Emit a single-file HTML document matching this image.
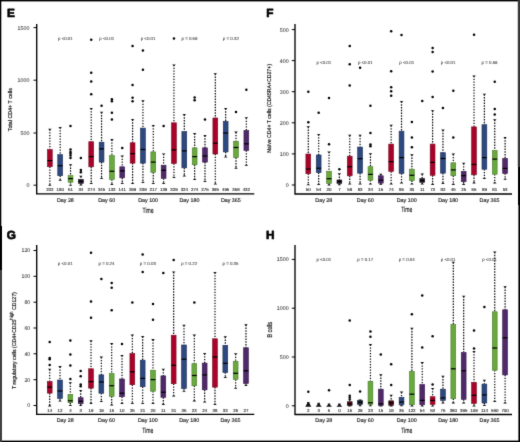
<!DOCTYPE html>
<html><head><meta charset="utf-8"><style>
html,body{margin:0;padding:0;background:#fff;}
body{width:520px;height:442px;overflow:hidden;}
svg{display:block;will-change:transform;}
text{font-family:'Liberation Sans',sans-serif;fill:#1a1a1a;text-rendering:geometricPrecision;}
.let{font-size:11.8px;font-weight:bold;fill:#000;stroke:#000;stroke-width:0.7px;stroke-linejoin:round;}
.wh{stroke:#000;stroke-width:1.2;stroke-dasharray:1.35 1.4;}
.cap{fill:#111;}
.bx{stroke-width:0.6;}
.md{stroke:#000;stroke-width:1.25;}
.ax{fill:none;stroke:#000;stroke-width:1.35;}
.tk{stroke:#000;stroke-width:1;}
.tl{font-size:5.3px;text-anchor:end;fill:#3a3a3a;stroke:#3a3a3a;stroke-width:0.06px;}
.pv{font-size:4.4px;text-anchor:middle;fill:#444;stroke:#444;stroke-width:0.08px;}
.n{font-size:4.4px;text-anchor:middle;fill:#2a2a2a;stroke:#2a2a2a;stroke-width:0.12px;}
.day{font-size:5.35px;text-anchor:middle;fill:#1a1a1a;stroke:#1a1a1a;stroke-width:0.15px;}
.time{font-size:7.6px;text-anchor:middle;fill:#111;stroke:#111;stroke-width:0.12px;}
.yt{font-size:5.6px;text-anchor:middle;fill:#111;stroke:#111;stroke-width:0.18px;}
.sup{font-size:4.6px;}
</style></head><body>
<svg width="520" height="442" viewBox="0 0 520 442">
<defs><filter id="bl" x="0" y="0" width="520" height="442" filterUnits="userSpaceOnUse" color-interpolation-filters="sRGB"><feConvolveMatrix order="3" kernelMatrix="0.0114 0.084 0.0114 0.084 0.619 0.084 0.0114 0.084 0.0114" edgeMode="duplicate" preserveAlpha="true"/></filter></defs>
<g filter="url(#bl)">
<rect x="0" y="0" width="520" height="442" fill="#fff"/>
<text x="7" y="16.9" class="let">E</text>
<line x1="49.85" y1="129.4" x2="49.85" y2="149.6" class="wh"/>
<line x1="49.85" y1="166.7" x2="49.85" y2="185.1" class="wh"/>
<path d="M48.05 128.8h3.6l-1.8 1.8z" class="cap"/>
<path d="M48.05 185.7h3.6l-1.8 -1.8z" class="cap"/>
<rect x="47.45" y="149.6" width="4.8" height="17.1" fill="#aa0229" stroke="#740a20" class="bx"/>
<line x1="47.45" y1="160.6" x2="52.25" y2="160.6" class="md"/>
<text x="49.85" y="190.8" class="n">232</text>
<line x1="60.19" y1="127.5" x2="60.19" y2="154.6" class="wh"/>
<line x1="60.19" y1="175.7" x2="60.19" y2="180.2" class="wh"/>
<path d="M58.39 126.9h3.6l-1.8 1.8z" class="cap"/>
<path d="M58.39 180.8h3.6l-1.8 -1.8z" class="cap"/>
<rect x="57.79" y="154.6" width="4.8" height="21.1" fill="#2d4980" stroke="#1b2b50" class="bx"/>
<line x1="57.79" y1="165.7" x2="62.59" y2="165.7" class="md"/>
<text x="60.19" y="190.8" class="n">180</text>
<line x1="70.53" y1="164.8" x2="70.53" y2="175.6" class="wh"/>
<line x1="70.53" y1="182.2" x2="70.53" y2="185.1" class="wh"/>
<path d="M68.73 164.2h3.6l-1.8 1.8z" class="cap"/>
<path d="M68.73 185.7h3.6l-1.8 -1.8z" class="cap"/>
<rect x="68.13" y="175.6" width="4.8" height="6.6" fill="#69a93d" stroke="#4a7a2c" class="bx"/>
<line x1="68.13" y1="178.6" x2="72.93" y2="178.6" class="md"/>
<circle cx="70.53" cy="125.9" r="1.25"/>
<circle cx="70.53" cy="149.5" r="1.25"/>
<circle cx="70.53" cy="151.9" r="1.25"/>
<circle cx="70.53" cy="153.4" r="1.25"/>
<circle cx="70.53" cy="155.4" r="1.25"/>
<circle cx="70.53" cy="158" r="1.25"/>
<text x="70.53" y="190.8" class="n">61</text>
<line x1="80.88" y1="176.3" x2="80.88" y2="179.4" class="wh"/>
<line x1="80.88" y1="183.4" x2="80.88" y2="185" class="wh"/>
<path d="M79.08 175.7h3.6l-1.8 1.8z" class="cap"/>
<path d="M79.08 185.6h3.6l-1.8 -1.8z" class="cap"/>
<rect x="78.48" y="179.4" width="4.8" height="4" fill="#2b1639" stroke="#1a1a1a" class="bx"/>
<line x1="78.48" y1="181.4" x2="83.28" y2="181.4" class="md"/>
<circle cx="80.88" cy="158" r="1.25"/>
<circle cx="80.88" cy="169.9" r="1.25"/>
<circle cx="80.88" cy="172.2" r="1.25"/>
<text x="80.88" y="190.8" class="n">34</text>
<line x1="91.22" y1="108.5" x2="91.22" y2="141.7" class="wh"/>
<line x1="91.22" y1="166.8" x2="91.22" y2="183.5" class="wh"/>
<path d="M89.42 107.9h3.6l-1.8 1.8z" class="cap"/>
<path d="M89.42 184.1h3.6l-1.8 -1.8z" class="cap"/>
<rect x="88.82" y="141.7" width="4.8" height="25.1" fill="#aa0229" stroke="#740a20" class="bx"/>
<line x1="88.82" y1="156.6" x2="93.62" y2="156.6" class="md"/>
<circle cx="91.22" cy="39.8" r="1.25"/>
<circle cx="91.22" cy="72.8" r="1.25"/>
<circle cx="91.22" cy="81.5" r="1.25"/>
<circle cx="91.22" cy="94.2" r="1.25"/>
<text x="91.22" y="190.8" class="n">274</text>
<line x1="101.56" y1="112.3" x2="101.56" y2="142.2" class="wh"/>
<line x1="101.56" y1="162.1" x2="101.56" y2="178.4" class="wh"/>
<path d="M99.76 111.7h3.6l-1.8 1.8z" class="cap"/>
<path d="M99.76 179h3.6l-1.8 -1.8z" class="cap"/>
<rect x="99.16" y="142.2" width="4.8" height="19.9" fill="#2d4980" stroke="#1b2b50" class="bx"/>
<line x1="99.16" y1="148.9" x2="103.96" y2="148.9" class="md"/>
<circle cx="101.56" cy="105.7" r="1.25"/>
<text x="101.56" y="190.8" class="n">345</text>
<line x1="111.9" y1="139.7" x2="111.9" y2="155.6" class="wh"/>
<line x1="111.9" y1="179.4" x2="111.9" y2="184.5" class="wh"/>
<path d="M110.1 139.1h3.6l-1.8 1.8z" class="cap"/>
<path d="M110.1 185.1h3.6l-1.8 -1.8z" class="cap"/>
<rect x="109.5" y="155.6" width="4.8" height="23.8" fill="#69a93d" stroke="#4a7a2c" class="bx"/>
<line x1="109.5" y1="171.3" x2="114.3" y2="171.3" class="md"/>
<circle cx="111.9" cy="99.2" r="1.25"/>
<circle cx="111.9" cy="101.3" r="1.25"/>
<circle cx="111.9" cy="112.8" r="1.25"/>
<circle cx="111.9" cy="119.6" r="1.25"/>
<text x="111.9" y="190.8" class="n">133</text>
<line x1="122.24" y1="156" x2="122.24" y2="166.8" class="wh"/>
<line x1="122.24" y1="177.8" x2="122.24" y2="183.5" class="wh"/>
<path d="M120.44 155.4h3.6l-1.8 1.8z" class="cap"/>
<path d="M120.44 184.1h3.6l-1.8 -1.8z" class="cap"/>
<rect x="119.84" y="166.8" width="4.8" height="11" fill="#4f2969" stroke="#341847" class="bx"/>
<line x1="119.84" y1="170.9" x2="124.64" y2="170.9" class="md"/>
<circle cx="122.24" cy="147.9" r="1.25"/>
<text x="122.24" y="190.8" class="n">141</text>
<line x1="132.59" y1="119.6" x2="132.59" y2="142.8" class="wh"/>
<line x1="132.59" y1="163.1" x2="132.59" y2="183.5" class="wh"/>
<path d="M130.79 119h3.6l-1.8 1.8z" class="cap"/>
<path d="M130.79 184.1h3.6l-1.8 -1.8z" class="cap"/>
<rect x="130.19" y="142.8" width="4.8" height="20.3" fill="#aa0229" stroke="#740a20" class="bx"/>
<line x1="130.19" y1="153.6" x2="134.99" y2="153.6" class="md"/>
<circle cx="132.59" cy="45.9" r="1.25"/>
<circle cx="132.59" cy="85" r="1.25"/>
<circle cx="132.59" cy="97.8" r="1.25"/>
<circle cx="132.59" cy="101.3" r="1.25"/>
<text x="132.59" y="190.8" class="n">299</text>
<line x1="142.93" y1="100.9" x2="142.93" y2="128.1" class="wh"/>
<line x1="142.93" y1="163.1" x2="142.93" y2="182.5" class="wh"/>
<path d="M141.13 100.3h3.6l-1.8 1.8z" class="cap"/>
<path d="M141.13 183.1h3.6l-1.8 -1.8z" class="cap"/>
<rect x="140.53" y="128.1" width="4.8" height="35" fill="#2d4980" stroke="#1b2b50" class="bx"/>
<line x1="140.53" y1="149.5" x2="145.33" y2="149.5" class="md"/>
<circle cx="142.93" cy="50.4" r="1.25"/>
<circle cx="142.93" cy="69.7" r="1.25"/>
<text x="142.93" y="190.8" class="n">339</text>
<line x1="153.27" y1="125.5" x2="153.27" y2="151.9" class="wh"/>
<line x1="153.27" y1="172.3" x2="153.27" y2="183.5" class="wh"/>
<path d="M151.47 124.9h3.6l-1.8 1.8z" class="cap"/>
<path d="M151.47 184.1h3.6l-1.8 -1.8z" class="cap"/>
<rect x="150.87" y="151.9" width="4.8" height="20.4" fill="#69a93d" stroke="#4a7a2c" class="bx"/>
<line x1="150.87" y1="162.1" x2="155.67" y2="162.1" class="md"/>
<text x="153.27" y="190.8" class="n">217</text>
<line x1="163.61" y1="154" x2="163.61" y2="165.2" class="wh"/>
<line x1="163.61" y1="178.4" x2="163.61" y2="183.5" class="wh"/>
<path d="M161.81 153.4h3.6l-1.8 1.8z" class="cap"/>
<path d="M161.81 184.1h3.6l-1.8 -1.8z" class="cap"/>
<rect x="161.21" y="165.2" width="4.8" height="13.2" fill="#4f2969" stroke="#341847" class="bx"/>
<line x1="161.21" y1="170.3" x2="166.01" y2="170.3" class="md"/>
<circle cx="163.61" cy="126" r="1.25"/>
<text x="163.61" y="190.8" class="n">139</text>
<line x1="173.95" y1="65" x2="173.95" y2="122.8" class="wh"/>
<line x1="173.95" y1="163.5" x2="173.95" y2="177.4" class="wh"/>
<path d="M172.15 64.4h3.6l-1.8 1.8z" class="cap"/>
<path d="M172.15 178h3.6l-1.8 -1.8z" class="cap"/>
<rect x="171.55" y="122.8" width="4.8" height="40.7" fill="#aa0229" stroke="#740a20" class="bx"/>
<line x1="171.55" y1="149.9" x2="176.35" y2="149.9" class="md"/>
<circle cx="173.95" cy="38.6" r="1.25"/>
<text x="173.95" y="190.8" class="n">329</text>
<line x1="184.3" y1="114.6" x2="184.3" y2="131.6" class="wh"/>
<line x1="184.3" y1="167.8" x2="184.3" y2="176" class="wh"/>
<path d="M182.5 114h3.6l-1.8 1.8z" class="cap"/>
<path d="M182.5 176.6h3.6l-1.8 -1.8z" class="cap"/>
<rect x="181.9" y="131.6" width="4.8" height="36.2" fill="#2d4980" stroke="#1b2b50" class="bx"/>
<line x1="181.9" y1="150.9" x2="186.7" y2="150.9" class="md"/>
<text x="184.3" y="190.8" class="n">324</text>
<line x1="194.64" y1="133.6" x2="194.64" y2="147.9" class="wh"/>
<line x1="194.64" y1="164.8" x2="194.64" y2="179.4" class="wh"/>
<path d="M192.84 133h3.6l-1.8 1.8z" class="cap"/>
<path d="M192.84 180h3.6l-1.8 -1.8z" class="cap"/>
<rect x="192.24" y="147.9" width="4.8" height="16.9" fill="#69a93d" stroke="#4a7a2c" class="bx"/>
<line x1="192.24" y1="156.6" x2="197.04" y2="156.6" class="md"/>
<circle cx="194.64" cy="97.6" r="1.25"/>
<circle cx="194.64" cy="100.3" r="1.25"/>
<text x="194.64" y="190.8" class="n">274</text>
<line x1="204.98" y1="135.6" x2="204.98" y2="147.9" class="wh"/>
<line x1="204.98" y1="162.1" x2="204.98" y2="181.5" class="wh"/>
<path d="M203.18 135h3.6l-1.8 1.8z" class="cap"/>
<path d="M203.18 182.1h3.6l-1.8 -1.8z" class="cap"/>
<rect x="202.58" y="147.9" width="4.8" height="14.2" fill="#4f2969" stroke="#341847" class="bx"/>
<line x1="202.58" y1="156" x2="207.38" y2="156" class="md"/>
<circle cx="204.98" cy="119.5" r="1.25"/>
<text x="204.98" y="190.8" class="n">275</text>
<line x1="215.32" y1="73.8" x2="215.32" y2="118" class="wh"/>
<line x1="215.32" y1="154" x2="215.32" y2="183.9" class="wh"/>
<path d="M213.52 73.2h3.6l-1.8 1.8z" class="cap"/>
<path d="M213.52 184.5h3.6l-1.8 -1.8z" class="cap"/>
<rect x="212.92" y="118" width="4.8" height="36" fill="#aa0229" stroke="#740a20" class="bx"/>
<line x1="212.92" y1="143.2" x2="217.72" y2="143.2" class="md"/>
<text x="215.32" y="190.8" class="n">395</text>
<line x1="225.66" y1="108.6" x2="225.66" y2="121.4" class="wh"/>
<line x1="225.66" y1="151.9" x2="225.66" y2="157" class="wh"/>
<path d="M223.86 108h3.6l-1.8 1.8z" class="cap"/>
<path d="M223.86 157.6h3.6l-1.8 -1.8z" class="cap"/>
<rect x="223.26" y="121.4" width="4.8" height="30.5" fill="#2d4980" stroke="#1b2b50" class="bx"/>
<line x1="223.26" y1="133" x2="228.06" y2="133" class="md"/>
<text x="225.66" y="190.8" class="n">495</text>
<line x1="236.01" y1="132.2" x2="236.01" y2="141.3" class="wh"/>
<line x1="236.01" y1="157.6" x2="236.01" y2="168.2" class="wh"/>
<path d="M234.21 131.6h3.6l-1.8 1.8z" class="cap"/>
<path d="M234.21 168.8h3.6l-1.8 -1.8z" class="cap"/>
<rect x="233.61" y="141.3" width="4.8" height="16.3" fill="#69a93d" stroke="#4a7a2c" class="bx"/>
<line x1="233.61" y1="147.5" x2="238.41" y2="147.5" class="md"/>
<circle cx="236.01" cy="111.9" r="1.25"/>
<text x="236.01" y="190.8" class="n">358</text>
<line x1="246.35" y1="117.9" x2="246.35" y2="130.5" class="wh"/>
<line x1="246.35" y1="150.5" x2="246.35" y2="165.2" class="wh"/>
<path d="M244.55 117.3h3.6l-1.8 1.8z" class="cap"/>
<path d="M244.55 165.8h3.6l-1.8 -1.8z" class="cap"/>
<rect x="243.95" y="130.5" width="4.8" height="20" fill="#4f2969" stroke="#341847" class="bx"/>
<line x1="243.95" y1="143.8" x2="248.75" y2="143.8" class="md"/>
<circle cx="246.35" cy="89.7" r="1.25"/>
<text x="246.35" y="190.8" class="n">432</text>
<path d="M36.7 24V193.9H254.3" class="ax"/>
<line x1="33.5" y1="27.6" x2="36.7" y2="27.6" class="tk"/>
<text x="29.4" y="29.5" class="tl">1500</text>
<line x1="33.5" y1="80.2" x2="36.7" y2="80.2" class="tk"/>
<text x="29.4" y="82.1" class="tl">1000</text>
<line x1="33.5" y1="133" x2="36.7" y2="133" class="tk"/>
<text x="29.4" y="134.9" class="tl">500</text>
<line x1="33.5" y1="185.2" x2="36.7" y2="185.2" class="tk"/>
<text x="29.4" y="187.1" class="tl">0</text>
<text x="65.36" y="40.1" class="pv">p <0.01</text>
<text x="65.36" y="201.6" class="day">Day 28</text>
<text x="106.73" y="40.1" class="pv">p <0.01</text>
<text x="106.73" y="201.6" class="day">Day 60</text>
<text x="148.1" y="40.1" class="pv">p <0.01</text>
<text x="148.1" y="201.6" class="day">Day 100</text>
<text x="189.47" y="40.1" class="pv">p = 0.69</text>
<text x="189.47" y="201.6" class="day">Day 180</text>
<text x="230.84" y="40.1" class="pv">p = 0.32</text>
<text x="230.84" y="201.6" class="day">Day 365</text>
<text class="time" transform="translate(148.1 212.5) scale(0.665 1)">Time</text>
<text class="yt" style="font-size:5.6px" transform="translate(12.4 109.7) rotate(-90)" textLength="43.1" lengthAdjust="spacingAndGlyphs">Total CD4+ T cells</text>
<text x="266.3" y="16.9" class="let">F</text>
<line x1="308.3" y1="126.8" x2="308.3" y2="154" class="wh"/>
<line x1="308.3" y1="173.7" x2="308.3" y2="184.7" class="wh"/>
<path d="M306.5 126.2h3.6l-1.8 1.8z" class="cap"/>
<path d="M306.5 185.3h3.6l-1.8 -1.8z" class="cap"/>
<rect x="305.9" y="154" width="4.8" height="19.7" fill="#aa0229" stroke="#740a20" class="bx"/>
<line x1="305.9" y1="169" x2="310.7" y2="169" class="md"/>
<circle cx="308.3" cy="91.7" r="1.25"/>
<circle cx="308.3" cy="122.3" r="1.25"/>
<text x="308.3" y="190.8" class="n">50</text>
<line x1="318.66" y1="134.5" x2="318.66" y2="155" class="wh"/>
<line x1="318.66" y1="172.6" x2="318.66" y2="184.4" class="wh"/>
<path d="M316.86 133.9h3.6l-1.8 1.8z" class="cap"/>
<path d="M316.86 185h3.6l-1.8 -1.8z" class="cap"/>
<rect x="316.26" y="155" width="4.8" height="17.6" fill="#2d4980" stroke="#1b2b50" class="bx"/>
<line x1="316.26" y1="168.2" x2="321.06" y2="168.2" class="md"/>
<circle cx="318.66" cy="112.8" r="1.25"/>
<text x="318.66" y="190.8" class="n">54</text>
<line x1="329.02" y1="152" x2="329.02" y2="171.2" class="wh"/>
<line x1="329.02" y1="183.5" x2="329.02" y2="185" class="wh"/>
<path d="M327.22 151.4h3.6l-1.8 1.8z" class="cap"/>
<path d="M327.22 185.6h3.6l-1.8 -1.8z" class="cap"/>
<rect x="326.62" y="171.2" width="4.8" height="12.3" fill="#69a93d" stroke="#4a7a2c" class="bx"/>
<line x1="326.62" y1="178.7" x2="331.42" y2="178.7" class="md"/>
<circle cx="329.02" cy="97.9" r="1.25"/>
<circle cx="329.02" cy="144.3" r="1.25"/>
<text x="329.02" y="190.8" class="n">20</text>
<line x1="339.37" y1="173.8" x2="339.37" y2="180" class="wh"/>
<line x1="339.37" y1="183.5" x2="339.37" y2="184.7" class="wh"/>
<path d="M337.57 173.2h3.6l-1.8 1.8z" class="cap"/>
<path d="M337.57 185.3h3.6l-1.8 -1.8z" class="cap"/>
<rect x="336.97" y="180" width="4.8" height="3.5" fill="#2b1639" stroke="#1a1a1a" class="bx"/>
<line x1="336.97" y1="181.5" x2="341.77" y2="181.5" class="md"/>
<circle cx="339.37" cy="169.2" r="1.25"/>
<text x="339.37" y="190.8" class="n">7</text>
<line x1="349.73" y1="135.4" x2="349.73" y2="156.2" class="wh"/>
<line x1="349.73" y1="175.8" x2="349.73" y2="184" class="wh"/>
<path d="M347.93 134.8h3.6l-1.8 1.8z" class="cap"/>
<path d="M347.93 184.6h3.6l-1.8 -1.8z" class="cap"/>
<rect x="347.33" y="156.2" width="4.8" height="19.6" fill="#aa0229" stroke="#740a20" class="bx"/>
<line x1="347.33" y1="166.7" x2="352.13" y2="166.7" class="md"/>
<circle cx="349.73" cy="45.9" r="1.25"/>
<circle cx="349.73" cy="64.2" r="1.25"/>
<circle cx="349.73" cy="85.6" r="1.25"/>
<text x="349.73" y="190.8" class="n">58</text>
<line x1="360.09" y1="135.4" x2="360.09" y2="147.1" class="wh"/>
<line x1="360.09" y1="173.1" x2="360.09" y2="184" class="wh"/>
<path d="M358.29 134.8h3.6l-1.8 1.8z" class="cap"/>
<path d="M358.29 184.6h3.6l-1.8 -1.8z" class="cap"/>
<rect x="357.69" y="147.1" width="4.8" height="26" fill="#2d4980" stroke="#1b2b50" class="bx"/>
<line x1="357.69" y1="158.7" x2="362.49" y2="158.7" class="md"/>
<circle cx="360.09" cy="67.7" r="1.25"/>
<text x="360.09" y="190.8" class="n">83</text>
<line x1="370.45" y1="153.8" x2="370.45" y2="166.7" class="wh"/>
<line x1="370.45" y1="180.2" x2="370.45" y2="184" class="wh"/>
<path d="M368.65 153.2h3.6l-1.8 1.8z" class="cap"/>
<path d="M368.65 184.6h3.6l-1.8 -1.8z" class="cap"/>
<rect x="368.05" y="166.7" width="4.8" height="13.5" fill="#69a93d" stroke="#4a7a2c" class="bx"/>
<line x1="368.05" y1="174.4" x2="372.85" y2="174.4" class="md"/>
<circle cx="370.45" cy="105.8" r="1.25"/>
<circle cx="370.45" cy="133.1" r="1.25"/>
<circle cx="370.45" cy="144.6" r="1.25"/>
<circle cx="370.45" cy="146.2" r="1.25"/>
<text x="370.45" y="190.8" class="n">34</text>
<line x1="380.81" y1="174.4" x2="380.81" y2="175.8" class="wh"/>
<line x1="380.81" y1="183.1" x2="380.81" y2="184.2" class="wh"/>
<path d="M379.01 173.8h3.6l-1.8 1.8z" class="cap"/>
<path d="M379.01 184.8h3.6l-1.8 -1.8z" class="cap"/>
<rect x="378.41" y="175.8" width="4.8" height="7.3" fill="#4f2969" stroke="#341847" class="bx"/>
<line x1="378.41" y1="180.2" x2="383.21" y2="180.2" class="md"/>
<text x="380.81" y="190.8" class="n">15</text>
<line x1="391.16" y1="125.4" x2="391.16" y2="144.1" class="wh"/>
<line x1="391.16" y1="171.4" x2="391.16" y2="183.9" class="wh"/>
<path d="M389.36 124.8h3.6l-1.8 1.8z" class="cap"/>
<path d="M389.36 184.5h3.6l-1.8 -1.8z" class="cap"/>
<rect x="388.76" y="144.1" width="4.8" height="27.3" fill="#aa0229" stroke="#740a20" class="bx"/>
<line x1="388.76" y1="161.7" x2="393.56" y2="161.7" class="md"/>
<circle cx="391.16" cy="31.2" r="1.25"/>
<circle cx="391.16" cy="71.3" r="1.25"/>
<circle cx="391.16" cy="87.2" r="1.25"/>
<circle cx="391.16" cy="91.3" r="1.25"/>
<circle cx="391.16" cy="95.8" r="1.25"/>
<text x="391.16" y="190.8" class="n">74</text>
<line x1="401.52" y1="101.6" x2="401.52" y2="131.2" class="wh"/>
<line x1="401.52" y1="173.5" x2="401.52" y2="182.8" class="wh"/>
<path d="M399.72 101h3.6l-1.8 1.8z" class="cap"/>
<path d="M399.72 183.4h3.6l-1.8 -1.8z" class="cap"/>
<rect x="399.12" y="131.2" width="4.8" height="42.3" fill="#2d4980" stroke="#1b2b50" class="bx"/>
<line x1="399.12" y1="157.6" x2="403.92" y2="157.6" class="md"/>
<circle cx="401.52" cy="34.9" r="1.25"/>
<text x="401.52" y="190.8" class="n">86</text>
<line x1="411.88" y1="154.8" x2="411.88" y2="169.2" class="wh"/>
<line x1="411.88" y1="180.6" x2="411.88" y2="183.9" class="wh"/>
<path d="M410.08 154.2h3.6l-1.8 1.8z" class="cap"/>
<path d="M410.08 184.5h3.6l-1.8 -1.8z" class="cap"/>
<rect x="409.48" y="169.2" width="4.8" height="11.4" fill="#69a93d" stroke="#4a7a2c" class="bx"/>
<line x1="409.48" y1="175.3" x2="414.28" y2="175.3" class="md"/>
<circle cx="411.88" cy="121.9" r="1.25"/>
<circle cx="411.88" cy="137.6" r="1.25"/>
<circle cx="411.88" cy="147.3" r="1.25"/>
<text x="411.88" y="190.8" class="n">30</text>
<line x1="422.24" y1="174.2" x2="422.24" y2="178.5" class="wh"/>
<line x1="422.24" y1="182.4" x2="422.24" y2="183.9" class="wh"/>
<path d="M420.44 173.6h3.6l-1.8 1.8z" class="cap"/>
<path d="M420.44 184.5h3.6l-1.8 -1.8z" class="cap"/>
<rect x="419.84" y="178.5" width="4.8" height="3.9" fill="#2b1639" stroke="#1a1a1a" class="bx"/>
<line x1="419.84" y1="180.6" x2="424.64" y2="180.6" class="md"/>
<circle cx="422.24" cy="101.1" r="1.25"/>
<text x="422.24" y="190.8" class="n">11</text>
<line x1="432.6" y1="110.8" x2="432.6" y2="144.1" class="wh"/>
<line x1="432.6" y1="175.3" x2="432.6" y2="184.3" class="wh"/>
<path d="M430.8 110.2h3.6l-1.8 1.8z" class="cap"/>
<path d="M430.8 184.9h3.6l-1.8 -1.8z" class="cap"/>
<rect x="430.2" y="144.1" width="4.8" height="31.2" fill="#aa0229" stroke="#740a20" class="bx"/>
<line x1="430.2" y1="162.4" x2="435" y2="162.4" class="md"/>
<circle cx="432.6" cy="48.1" r="1.25"/>
<circle cx="432.6" cy="52" r="1.25"/>
<circle cx="432.6" cy="71.5" r="1.25"/>
<circle cx="432.6" cy="97" r="1.25"/>
<text x="432.6" y="190.8" class="n">73</text>
<line x1="442.95" y1="130.1" x2="442.95" y2="152.7" class="wh"/>
<line x1="442.95" y1="173.1" x2="442.95" y2="183.4" class="wh"/>
<path d="M441.15 129.5h3.6l-1.8 1.8z" class="cap"/>
<path d="M441.15 184h3.6l-1.8 -1.8z" class="cap"/>
<rect x="440.55" y="152.7" width="4.8" height="20.4" fill="#2d4980" stroke="#1b2b50" class="bx"/>
<line x1="440.55" y1="158.5" x2="445.35" y2="158.5" class="md"/>
<circle cx="442.95" cy="108.1" r="1.25"/>
<text x="442.95" y="190.8" class="n">82</text>
<line x1="453.31" y1="154.2" x2="453.31" y2="162.8" class="wh"/>
<line x1="453.31" y1="175.7" x2="453.31" y2="184.3" class="wh"/>
<path d="M451.51 153.6h3.6l-1.8 1.8z" class="cap"/>
<path d="M451.51 184.9h3.6l-1.8 -1.8z" class="cap"/>
<rect x="450.91" y="162.8" width="4.8" height="12.9" fill="#69a93d" stroke="#4a7a2c" class="bx"/>
<line x1="450.91" y1="169.9" x2="455.71" y2="169.9" class="md"/>
<circle cx="453.31" cy="90.7" r="1.25"/>
<circle cx="453.31" cy="137.6" r="1.25"/>
<text x="453.31" y="190.8" class="n">46</text>
<line x1="463.67" y1="163.4" x2="463.67" y2="171.4" class="wh"/>
<line x1="463.67" y1="181.7" x2="463.67" y2="184.3" class="wh"/>
<path d="M461.87 162.8h3.6l-1.8 1.8z" class="cap"/>
<path d="M461.87 184.9h3.6l-1.8 -1.8z" class="cap"/>
<rect x="461.27" y="171.4" width="4.8" height="10.3" fill="#4f2969" stroke="#341847" class="bx"/>
<line x1="461.27" y1="175.7" x2="466.07" y2="175.7" class="md"/>
<text x="463.67" y="190.8" class="n">25</text>
<line x1="474.03" y1="76" x2="474.03" y2="126.9" class="wh"/>
<line x1="474.03" y1="174.8" x2="474.03" y2="182.8" class="wh"/>
<path d="M472.23 75.4h3.6l-1.8 1.8z" class="cap"/>
<path d="M472.23 183.4h3.6l-1.8 -1.8z" class="cap"/>
<rect x="471.63" y="126.9" width="4.8" height="47.9" fill="#aa0229" stroke="#740a20" class="bx"/>
<line x1="471.63" y1="164.5" x2="476.43" y2="164.5" class="md"/>
<circle cx="474.03" cy="34.7" r="1.25"/>
<text x="474.03" y="190.8" class="n">65</text>
<line x1="484.39" y1="94.3" x2="484.39" y2="124.7" class="wh"/>
<line x1="484.39" y1="169.2" x2="484.39" y2="178.5" class="wh"/>
<path d="M482.59 93.7h3.6l-1.8 1.8z" class="cap"/>
<path d="M482.59 179.1h3.6l-1.8 -1.8z" class="cap"/>
<rect x="481.99" y="124.7" width="4.8" height="44.5" fill="#2d4980" stroke="#1b2b50" class="bx"/>
<line x1="481.99" y1="157.6" x2="486.79" y2="157.6" class="md"/>
<text x="484.39" y="190.8" class="n">89</text>
<line x1="494.74" y1="119.8" x2="494.74" y2="150.5" class="wh"/>
<line x1="494.74" y1="174.2" x2="494.74" y2="182.8" class="wh"/>
<path d="M492.94 119.2h3.6l-1.8 1.8z" class="cap"/>
<path d="M492.94 183.4h3.6l-1.8 -1.8z" class="cap"/>
<rect x="492.34" y="150.5" width="4.8" height="23.7" fill="#69a93d" stroke="#4a7a2c" class="bx"/>
<line x1="492.34" y1="159.1" x2="497.14" y2="159.1" class="md"/>
<circle cx="494.74" cy="81.7" r="1.25"/>
<circle cx="494.74" cy="109" r="1.25"/>
<circle cx="494.74" cy="114.6" r="1.25"/>
<text x="494.74" y="190.8" class="n">81</text>
<line x1="505.1" y1="137.6" x2="505.1" y2="158.5" class="wh"/>
<line x1="505.1" y1="173.5" x2="505.1" y2="179.1" class="wh"/>
<path d="M503.3 137h3.6l-1.8 1.8z" class="cap"/>
<path d="M503.3 179.7h3.6l-1.8 -1.8z" class="cap"/>
<rect x="502.7" y="158.5" width="4.8" height="15" fill="#4f2969" stroke="#341847" class="bx"/>
<line x1="502.7" y1="168.4" x2="507.5" y2="168.4" class="md"/>
<text x="505.1" y="190.8" class="n">53</text>
<path d="M295 24V193.95H512" class="ax"/>
<line x1="291.8" y1="29.6" x2="295" y2="29.6" class="tk"/>
<text x="288.6" y="31.5" class="tl">500</text>
<line x1="291.8" y1="60.6" x2="295" y2="60.6" class="tk"/>
<text x="288.6" y="62.5" class="tl">400</text>
<line x1="291.8" y1="91.7" x2="295" y2="91.7" class="tk"/>
<text x="288.6" y="93.6" class="tl">300</text>
<line x1="291.8" y1="122.8" x2="295" y2="122.8" class="tk"/>
<text x="288.6" y="124.7" class="tl">200</text>
<line x1="291.8" y1="153.9" x2="295" y2="153.9" class="tk"/>
<text x="288.6" y="155.8" class="tl">100</text>
<line x1="291.8" y1="185" x2="295" y2="185" class="tk"/>
<text x="288.6" y="186.9" class="tl">0</text>
<text x="323.84" y="63.7" class="pv">p <0.01</text>
<text x="323.84" y="201.6" class="day">Day 28</text>
<text x="365.27" y="63.7" class="pv">p <0.01</text>
<text x="365.27" y="201.6" class="day">Day 60</text>
<text x="406.7" y="63.7" class="pv">p <0.01</text>
<text x="406.7" y="201.6" class="day">Day 100</text>
<text x="448.13" y="63.7" class="pv">p <0.01</text>
<text x="448.13" y="201.6" class="day">Day 180</text>
<text x="489.57" y="63.7" class="pv">p = 0.68</text>
<text x="489.57" y="201.6" class="day">Day 365</text>
<text class="time" transform="translate(406.7 212.3) scale(0.665 1)">Time</text>
<text class="yt" style="font-size:5.6px" transform="translate(271.3 108.45) rotate(-90)" textLength="88.7" lengthAdjust="spacingAndGlyphs">Naïve CD4+ T cells (CD45RA+CD27+)</text>
<text x="6.8" y="238.5" class="let">G</text>
<line x1="49.7" y1="369.4" x2="49.7" y2="381.5" class="wh"/>
<line x1="49.7" y1="393.1" x2="49.7" y2="405.8" class="wh"/>
<path d="M47.9 368.8h3.6l-1.8 1.8z" class="cap"/>
<path d="M47.9 406.4h3.6l-1.8 -1.8z" class="cap"/>
<rect x="47.3" y="381.5" width="4.8" height="11.6" fill="#aa0229" stroke="#740a20" class="bx"/>
<line x1="47.3" y1="387.1" x2="52.1" y2="387.1" class="md"/>
<circle cx="49.7" cy="341.9" r="1.25"/>
<circle cx="49.7" cy="357.9" r="1.25"/>
<circle cx="49.7" cy="359.2" r="1.25"/>
<circle cx="49.7" cy="365" r="1.25"/>
<text x="49.7" y="411.5" class="n">14</text>
<line x1="60.03" y1="366.7" x2="60.03" y2="380" class="wh"/>
<line x1="60.03" y1="398.4" x2="60.03" y2="401" class="wh"/>
<path d="M58.23 366.1h3.6l-1.8 1.8z" class="cap"/>
<path d="M58.23 401.6h3.6l-1.8 -1.8z" class="cap"/>
<rect x="57.63" y="380" width="4.8" height="18.4" fill="#2d4980" stroke="#1b2b50" class="bx"/>
<line x1="57.63" y1="391" x2="62.43" y2="391" class="md"/>
<text x="60.03" y="411.5" class="n">12</text>
<line x1="70.36" y1="382.9" x2="70.36" y2="394.4" class="wh"/>
<line x1="70.36" y1="402.7" x2="70.36" y2="405.4" class="wh"/>
<path d="M68.56 382.3h3.6l-1.8 1.8z" class="cap"/>
<path d="M68.56 406h3.6l-1.8 -1.8z" class="cap"/>
<rect x="67.96" y="394.4" width="4.8" height="8.3" fill="#69a93d" stroke="#4a7a2c" class="bx"/>
<line x1="67.96" y1="400.8" x2="72.76" y2="400.8" class="md"/>
<circle cx="70.36" cy="340.6" r="1.25"/>
<circle cx="70.36" cy="354.6" r="1.25"/>
<circle cx="70.36" cy="365.6" r="1.25"/>
<circle cx="70.36" cy="379" r="1.25"/>
<text x="70.36" y="411.5" class="n">4</text>
<line x1="80.69" y1="390.6" x2="80.69" y2="397.7" class="wh"/>
<line x1="80.69" y1="403.7" x2="80.69" y2="405.4" class="wh"/>
<path d="M78.89 390h3.6l-1.8 1.8z" class="cap"/>
<path d="M78.89 406h3.6l-1.8 -1.8z" class="cap"/>
<rect x="78.29" y="397.7" width="4.8" height="6" fill="#4f2969" stroke="#341847" class="bx"/>
<line x1="78.29" y1="401.2" x2="83.09" y2="401.2" class="md"/>
<circle cx="80.69" cy="371" r="1.25"/>
<circle cx="80.69" cy="376.2" r="1.25"/>
<circle cx="80.69" cy="384.4" r="1.25"/>
<circle cx="80.69" cy="386.2" r="1.25"/>
<text x="80.69" y="411.5" class="n">3</text>
<line x1="91.02" y1="340.9" x2="91.02" y2="368.8" class="wh"/>
<line x1="91.02" y1="388.1" x2="91.02" y2="403.4" class="wh"/>
<path d="M89.22 340.3h3.6l-1.8 1.8z" class="cap"/>
<path d="M89.22 404h3.6l-1.8 -1.8z" class="cap"/>
<rect x="88.62" y="368.8" width="4.8" height="19.3" fill="#aa0229" stroke="#740a20" class="bx"/>
<line x1="88.62" y1="381.6" x2="93.42" y2="381.6" class="md"/>
<circle cx="91.02" cy="252.7" r="1.25"/>
<circle cx="91.02" cy="301.6" r="1.25"/>
<circle cx="91.02" cy="317.7" r="1.25"/>
<text x="91.02" y="411.5" class="n">19</text>
<line x1="101.35" y1="357.2" x2="101.35" y2="374.9" class="wh"/>
<line x1="101.35" y1="393.2" x2="101.35" y2="401.4" class="wh"/>
<path d="M99.55 356.6h3.6l-1.8 1.8z" class="cap"/>
<path d="M99.55 402h3.6l-1.8 -1.8z" class="cap"/>
<rect x="98.95" y="374.9" width="4.8" height="18.3" fill="#2d4980" stroke="#1b2b50" class="bx"/>
<line x1="98.95" y1="382" x2="103.75" y2="382" class="md"/>
<circle cx="101.35" cy="279" r="1.25"/>
<text x="101.35" y="411.5" class="n">19</text>
<line x1="111.68" y1="343.7" x2="111.68" y2="373.5" class="wh"/>
<line x1="111.68" y1="396.3" x2="111.68" y2="404.8" class="wh"/>
<path d="M109.88 343.1h3.6l-1.8 1.8z" class="cap"/>
<path d="M109.88 405.4h3.6l-1.8 -1.8z" class="cap"/>
<rect x="109.28" y="373.5" width="4.8" height="22.8" fill="#69a93d" stroke="#4a7a2c" class="bx"/>
<line x1="109.28" y1="385.7" x2="114.08" y2="385.7" class="md"/>
<circle cx="111.68" cy="282.9" r="1.25"/>
<circle cx="111.68" cy="287.8" r="1.25"/>
<circle cx="111.68" cy="310.2" r="1.25"/>
<text x="111.68" y="411.5" class="n">16</text>
<line x1="122.01" y1="355.5" x2="122.01" y2="379" class="wh"/>
<line x1="122.01" y1="396.7" x2="122.01" y2="403.4" class="wh"/>
<path d="M120.21 354.9h3.6l-1.8 1.8z" class="cap"/>
<path d="M120.21 404h3.6l-1.8 -1.8z" class="cap"/>
<rect x="119.61" y="379" width="4.8" height="17.7" fill="#4f2969" stroke="#341847" class="bx"/>
<line x1="119.61" y1="393.2" x2="124.41" y2="393.2" class="md"/>
<circle cx="122.01" cy="343.9" r="1.25"/>
<text x="122.01" y="411.5" class="n">10</text>
<line x1="132.34" y1="335.2" x2="132.34" y2="353.5" class="wh"/>
<line x1="132.34" y1="384.7" x2="132.34" y2="403.4" class="wh"/>
<path d="M130.54 334.6h3.6l-1.8 1.8z" class="cap"/>
<path d="M130.54 404h3.6l-1.8 -1.8z" class="cap"/>
<rect x="129.94" y="353.5" width="4.8" height="31.2" fill="#aa0229" stroke="#740a20" class="bx"/>
<line x1="129.94" y1="371.8" x2="134.74" y2="371.8" class="md"/>
<circle cx="132.34" cy="302.4" r="1.25"/>
<text x="132.34" y="411.5" class="n">26</text>
<line x1="142.67" y1="336.6" x2="142.67" y2="360.2" class="wh"/>
<line x1="142.67" y1="386.7" x2="142.67" y2="403.4" class="wh"/>
<path d="M140.87 336h3.6l-1.8 1.8z" class="cap"/>
<path d="M140.87 404h3.6l-1.8 -1.8z" class="cap"/>
<rect x="140.27" y="360.2" width="4.8" height="26.5" fill="#2d4980" stroke="#1b2b50" class="bx"/>
<line x1="140.27" y1="378.4" x2="145.07" y2="378.4" class="md"/>
<circle cx="142.67" cy="254.6" r="1.25"/>
<circle cx="142.67" cy="272.1" r="1.25"/>
<text x="142.67" y="411.5" class="n">21</text>
<line x1="153" y1="339.7" x2="153" y2="370.2" class="wh"/>
<line x1="153" y1="391.2" x2="153" y2="403.4" class="wh"/>
<path d="M151.2 339.1h3.6l-1.8 1.8z" class="cap"/>
<path d="M151.2 404h3.6l-1.8 -1.8z" class="cap"/>
<rect x="150.6" y="370.2" width="4.8" height="21" fill="#69a93d" stroke="#4a7a2c" class="bx"/>
<line x1="150.6" y1="379.6" x2="155.4" y2="379.6" class="md"/>
<circle cx="153" cy="304.1" r="1.25"/>
<circle cx="153" cy="319.7" r="1.25"/>
<text x="153" y="411.5" class="n">20</text>
<line x1="163.33" y1="369.4" x2="163.33" y2="375.9" class="wh"/>
<line x1="163.33" y1="397.3" x2="163.33" y2="404.4" class="wh"/>
<path d="M161.53 368.8h3.6l-1.8 1.8z" class="cap"/>
<path d="M161.53 405h3.6l-1.8 -1.8z" class="cap"/>
<rect x="160.93" y="375.9" width="4.8" height="21.4" fill="#4f2969" stroke="#341847" class="bx"/>
<line x1="160.93" y1="392.2" x2="165.73" y2="392.2" class="md"/>
<circle cx="163.33" cy="272.9" r="1.25"/>
<text x="163.33" y="411.5" class="n">11</text>
<line x1="173.66" y1="272.1" x2="173.66" y2="335.2" class="wh"/>
<line x1="173.66" y1="383.7" x2="173.66" y2="395.9" class="wh"/>
<path d="M171.86 271.5h3.6l-1.8 1.8z" class="cap"/>
<path d="M171.86 396.5h3.6l-1.8 -1.8z" class="cap"/>
<rect x="171.26" y="335.2" width="4.8" height="48.5" fill="#aa0229" stroke="#740a20" class="bx"/>
<line x1="171.26" y1="365.3" x2="176.06" y2="365.3" class="md"/>
<circle cx="173.66" cy="259.9" r="1.25"/>
<text x="173.66" y="411.5" class="n">31</text>
<line x1="183.99" y1="325.4" x2="183.99" y2="345" class="wh"/>
<line x1="183.99" y1="388.5" x2="183.99" y2="391.2" class="wh"/>
<path d="M182.19 324.8h3.6l-1.8 1.8z" class="cap"/>
<path d="M182.19 391.8h3.6l-1.8 -1.8z" class="cap"/>
<rect x="181.59" y="345" width="4.8" height="43.5" fill="#2d4980" stroke="#1b2b50" class="bx"/>
<line x1="181.59" y1="359.2" x2="186.39" y2="359.2" class="md"/>
<text x="183.99" y="411.5" class="n">36</text>
<line x1="194.32" y1="335.2" x2="194.32" y2="363.7" class="wh"/>
<line x1="194.32" y1="385.7" x2="194.32" y2="400.8" class="wh"/>
<path d="M192.52 334.6h3.6l-1.8 1.8z" class="cap"/>
<path d="M192.52 401.4h3.6l-1.8 -1.8z" class="cap"/>
<rect x="191.92" y="363.7" width="4.8" height="22" fill="#69a93d" stroke="#4a7a2c" class="bx"/>
<line x1="191.92" y1="375.5" x2="196.72" y2="375.5" class="md"/>
<circle cx="194.32" cy="302.6" r="1.25"/>
<text x="194.32" y="411.5" class="n">23</text>
<line x1="204.65" y1="353.5" x2="204.65" y2="363.1" class="wh"/>
<line x1="204.65" y1="389.8" x2="204.65" y2="402" class="wh"/>
<path d="M202.85 352.9h3.6l-1.8 1.8z" class="cap"/>
<path d="M202.85 402.6h3.6l-1.8 -1.8z" class="cap"/>
<rect x="202.25" y="363.1" width="4.8" height="26.7" fill="#4f2969" stroke="#341847" class="bx"/>
<line x1="202.25" y1="374.9" x2="207.05" y2="374.9" class="md"/>
<text x="204.65" y="411.5" class="n">24</text>
<line x1="214.98" y1="272.5" x2="214.98" y2="338.8" class="wh"/>
<line x1="214.98" y1="387.1" x2="214.98" y2="404.4" class="wh"/>
<path d="M213.18 271.9h3.6l-1.8 1.8z" class="cap"/>
<path d="M213.18 405h3.6l-1.8 -1.8z" class="cap"/>
<rect x="212.58" y="338.8" width="4.8" height="48.3" fill="#aa0229" stroke="#740a20" class="bx"/>
<line x1="212.58" y1="357" x2="217.38" y2="357" class="md"/>
<text x="214.98" y="411.5" class="n">38</text>
<line x1="225.31" y1="336.8" x2="225.31" y2="345.4" class="wh"/>
<line x1="225.31" y1="372.5" x2="225.31" y2="377.5" class="wh"/>
<path d="M223.51 336.2h3.6l-1.8 1.8z" class="cap"/>
<path d="M223.51 378.1h3.6l-1.8 -1.8z" class="cap"/>
<rect x="222.91" y="345.4" width="4.8" height="27.1" fill="#2d4980" stroke="#1b2b50" class="bx"/>
<line x1="222.91" y1="363.3" x2="227.71" y2="363.3" class="md"/>
<text x="225.31" y="411.5" class="n">33</text>
<line x1="235.64" y1="353.9" x2="235.64" y2="361.3" class="wh"/>
<line x1="235.64" y1="379.4" x2="235.64" y2="388.1" class="wh"/>
<path d="M233.84 353.3h3.6l-1.8 1.8z" class="cap"/>
<path d="M233.84 388.7h3.6l-1.8 -1.8z" class="cap"/>
<rect x="233.24" y="361.3" width="4.8" height="18.1" fill="#69a93d" stroke="#4a7a2c" class="bx"/>
<line x1="233.24" y1="373.3" x2="238.04" y2="373.3" class="md"/>
<text x="235.64" y="411.5" class="n">26</text>
<line x1="245.97" y1="324.8" x2="245.97" y2="347.8" class="wh"/>
<line x1="245.97" y1="383.5" x2="245.97" y2="385.5" class="wh"/>
<path d="M244.17 324.2h3.6l-1.8 1.8z" class="cap"/>
<path d="M244.17 386.1h3.6l-1.8 -1.8z" class="cap"/>
<rect x="243.57" y="347.8" width="4.8" height="35.7" fill="#4f2969" stroke="#341847" class="bx"/>
<line x1="243.57" y1="370.8" x2="248.37" y2="370.8" class="md"/>
<text x="245.97" y="411.5" class="n">27</text>
<path d="M36.7 245V414.4H254.3" class="ax"/>
<line x1="33.5" y1="250.5" x2="36.7" y2="250.5" class="tk"/>
<text x="30.3" y="252.4" class="tl">120</text>
<line x1="33.5" y1="276.3" x2="36.7" y2="276.3" class="tk"/>
<text x="30.3" y="278.2" class="tl">100</text>
<line x1="33.5" y1="302.2" x2="36.7" y2="302.2" class="tk"/>
<text x="30.3" y="304.1" class="tl">80</text>
<line x1="33.5" y1="328" x2="36.7" y2="328" class="tk"/>
<text x="30.3" y="329.9" class="tl">60</text>
<line x1="33.5" y1="353.8" x2="36.7" y2="353.8" class="tk"/>
<text x="30.3" y="355.7" class="tl">40</text>
<line x1="33.5" y1="379.7" x2="36.7" y2="379.7" class="tk"/>
<text x="30.3" y="381.6" class="tl">20</text>
<line x1="33.5" y1="405.5" x2="36.7" y2="405.5" class="tk"/>
<text x="30.3" y="407.4" class="tl">0</text>
<text x="65.2" y="265.4" class="pv">p <0.01</text>
<text x="65.2" y="422.1" class="day">Day 28</text>
<text x="106.52" y="265.4" class="pv">p = 0.24</text>
<text x="106.52" y="422.1" class="day">Day 60</text>
<text x="147.84" y="265.4" class="pv">p = 0.03</text>
<text x="147.84" y="422.1" class="day">Day 100</text>
<text x="189.16" y="265.4" class="pv">p = 0.22</text>
<text x="189.16" y="422.1" class="day">Day 180</text>
<text x="230.48" y="265.4" class="pv">p = 0.35</text>
<text x="230.48" y="422.1" class="day">Day 365</text>
<text class="time" transform="translate(147.84 432.7) scale(0.665 1)">Time</text>
<text class="yt" transform="translate(15.5 340.6) rotate(-90)" textLength="96.8" lengthAdjust="spacingAndGlyphs">T regulatory cells (CD4+CD25<tspan class="sup" dy="-2.3">high</tspan><tspan dy="2.3"> CD127)</tspan></text>
<text x="266" y="238.5" class="let">H</text>
<path d="M307.1 402H309.5V403.6L311.3 406.7H305.3L307.1 403.6Z" fill="#111"/>
<circle cx="308.3" cy="391.7" r="1.25"/>
<text x="308.3" y="411.8" class="n">2</text>
<path d="M317.46 402.8H319.86V404.4L321.66 406.7H315.66L317.46 404.4Z" fill="#111"/>
<text x="318.66" y="411.8" class="n">3</text>
<path d="M327.82 403.4H330.22V405L332.02 406.7H326.02L327.82 405Z" fill="#111"/>
<circle cx="329.02" cy="390.3" r="1.25"/>
<text x="329.02" y="411.8" class="n">6</text>
<path d="M338.17 403.4H340.57V405L342.37 406.7H336.37L338.17 405Z" fill="#111"/>
<text x="339.37" y="411.8" class="n">0</text>
<line x1="349.73" y1="399.6" x2="349.73" y2="401.7" class="wh"/>
<line x1="349.73" y1="405.6" x2="349.73" y2="406" class="wh"/>
<path d="M347.93 399h3.6l-1.8 1.8z" class="cap"/>
<path d="M347.93 406.6h3.6l-1.8 -1.8z" class="cap"/>
<rect x="347.33" y="401.7" width="4.8" height="3.9" fill="#5d0116" stroke="#1a1a1a" class="bx"/>
<line x1="347.33" y1="403.9" x2="352.13" y2="403.9" class="md"/>
<circle cx="349.73" cy="320.4" r="1.25"/>
<circle cx="349.73" cy="384.9" r="1.25"/>
<circle cx="349.73" cy="395.7" r="1.25"/>
<circle cx="349.73" cy="397.8" r="1.25"/>
<text x="349.73" y="411.8" class="n">16</text>
<line x1="360.09" y1="400" x2="360.09" y2="400.6" class="wh"/>
<line x1="360.09" y1="404.5" x2="360.09" y2="405.6" class="wh"/>
<path d="M358.29 399.4h3.6l-1.8 1.8z" class="cap"/>
<path d="M358.29 406.2h3.6l-1.8 -1.8z" class="cap"/>
<rect x="357.69" y="400.6" width="4.8" height="3.9" fill="#182846" stroke="#1a1a1a" class="bx"/>
<line x1="357.69" y1="402.2" x2="362.49" y2="402.2" class="md"/>
<circle cx="360.09" cy="391.4" r="1.25"/>
<text x="360.09" y="411.8" class="n">29</text>
<line x1="370.45" y1="344.7" x2="370.45" y2="381.3" class="wh"/>
<line x1="370.45" y1="404.3" x2="370.45" y2="405.6" class="wh"/>
<path d="M368.65 344.1h3.6l-1.8 1.8z" class="cap"/>
<path d="M368.65 406.2h3.6l-1.8 -1.8z" class="cap"/>
<rect x="368.05" y="381.3" width="4.8" height="23" fill="#69a93d" stroke="#4a7a2c" class="bx"/>
<line x1="368.05" y1="402.8" x2="372.85" y2="402.8" class="md"/>
<circle cx="370.45" cy="331.4" r="1.25"/>
<circle cx="370.45" cy="336.8" r="1.25"/>
<text x="370.45" y="411.8" class="n">23</text>
<line x1="380.81" y1="374.8" x2="380.81" y2="389.2" class="wh"/>
<line x1="380.81" y1="405.6" x2="380.81" y2="406" class="wh"/>
<path d="M379.01 374.2h3.6l-1.8 1.8z" class="cap"/>
<path d="M379.01 406.6h3.6l-1.8 -1.8z" class="cap"/>
<rect x="378.41" y="389.2" width="4.8" height="16.4" fill="#4f2969" stroke="#341847" class="bx"/>
<line x1="378.41" y1="403.9" x2="383.21" y2="403.9" class="md"/>
<circle cx="380.81" cy="354.4" r="1.25"/>
<text x="380.81" y="411.8" class="n">15</text>
<line x1="391.16" y1="395.3" x2="391.16" y2="400.8" class="wh"/>
<line x1="391.16" y1="405.4" x2="391.16" y2="406" class="wh"/>
<path d="M389.36 394.7h3.6l-1.8 1.8z" class="cap"/>
<path d="M389.36 406.6h3.6l-1.8 -1.8z" class="cap"/>
<rect x="388.76" y="400.8" width="4.8" height="4.6" fill="#5d0116" stroke="#1a1a1a" class="bx"/>
<line x1="388.76" y1="402.8" x2="393.56" y2="402.8" class="md"/>
<circle cx="391.16" cy="364.3" r="1.25"/>
<circle cx="391.16" cy="385.1" r="1.25"/>
<text x="391.16" y="411.8" class="n">18</text>
<line x1="401.52" y1="392.2" x2="401.52" y2="397.3" class="wh"/>
<line x1="401.52" y1="404.8" x2="401.52" y2="405.6" class="wh"/>
<path d="M399.72 391.6h3.6l-1.8 1.8z" class="cap"/>
<path d="M399.72 406.2h3.6l-1.8 -1.8z" class="cap"/>
<rect x="399.12" y="397.3" width="4.8" height="7.5" fill="#2d4980" stroke="#1b2b50" class="bx"/>
<line x1="399.12" y1="402" x2="403.92" y2="402" class="md"/>
<text x="401.52" y="411.8" class="n">36</text>
<line x1="411.88" y1="328.3" x2="411.88" y2="371.4" class="wh"/>
<line x1="411.88" y1="404.8" x2="411.88" y2="406" class="wh"/>
<path d="M410.08 327.7h3.6l-1.8 1.8z" class="cap"/>
<path d="M410.08 406.6h3.6l-1.8 -1.8z" class="cap"/>
<rect x="409.48" y="371.4" width="4.8" height="33.4" fill="#69a93d" stroke="#4a7a2c" class="bx"/>
<line x1="409.48" y1="394.2" x2="414.28" y2="394.2" class="md"/>
<circle cx="411.88" cy="314.2" r="1.25"/>
<text x="411.88" y="411.8" class="n">122</text>
<line x1="422.24" y1="362.7" x2="422.24" y2="384.5" class="wh"/>
<line x1="422.24" y1="404.8" x2="422.24" y2="406" class="wh"/>
<path d="M420.44 362.1h3.6l-1.8 1.8z" class="cap"/>
<path d="M420.44 406.6h3.6l-1.8 -1.8z" class="cap"/>
<rect x="419.84" y="384.5" width="4.8" height="20.3" fill="#4f2969" stroke="#341847" class="bx"/>
<line x1="419.84" y1="400.4" x2="424.64" y2="400.4" class="md"/>
<circle cx="422.24" cy="295.5" r="1.25"/>
<circle cx="422.24" cy="347.4" r="1.25"/>
<text x="422.24" y="411.8" class="n">54</text>
<line x1="432.6" y1="388.5" x2="432.6" y2="396.7" class="wh"/>
<line x1="432.6" y1="404.4" x2="432.6" y2="406" class="wh"/>
<path d="M430.8 387.9h3.6l-1.8 1.8z" class="cap"/>
<path d="M430.8 406.6h3.6l-1.8 -1.8z" class="cap"/>
<rect x="430.2" y="396.7" width="4.8" height="7.7" fill="#aa0229" stroke="#740a20" class="bx"/>
<line x1="430.2" y1="400.4" x2="435" y2="400.4" class="md"/>
<circle cx="432.6" cy="336.2" r="1.25"/>
<circle cx="432.6" cy="384.5" r="1.25"/>
<text x="432.6" y="411.8" class="n">53</text>
<line x1="442.95" y1="376.3" x2="442.95" y2="389.2" class="wh"/>
<line x1="442.95" y1="400.4" x2="442.95" y2="402.8" class="wh"/>
<path d="M441.15 375.7h3.6l-1.8 1.8z" class="cap"/>
<path d="M441.15 403.4h3.6l-1.8 -1.8z" class="cap"/>
<rect x="440.55" y="389.2" width="4.8" height="11.2" fill="#2d4980" stroke="#1b2b50" class="bx"/>
<line x1="440.55" y1="397.9" x2="445.35" y2="397.9" class="md"/>
<text x="442.95" y="411.8" class="n">76</text>
<line x1="453.31" y1="262.3" x2="453.31" y2="324.4" class="wh"/>
<line x1="453.31" y1="398.7" x2="453.31" y2="402.8" class="wh"/>
<path d="M451.51 261.7h3.6l-1.8 1.8z" class="cap"/>
<path d="M451.51 403.4h3.6l-1.8 -1.8z" class="cap"/>
<rect x="450.91" y="324.4" width="4.8" height="74.3" fill="#69a93d" stroke="#4a7a2c" class="bx"/>
<line x1="450.91" y1="368.8" x2="455.71" y2="368.8" class="md"/>
<text x="453.31" y="411.8" class="n">380</text>
<line x1="463.67" y1="296.3" x2="463.67" y2="352.5" class="wh"/>
<line x1="463.67" y1="399.3" x2="463.67" y2="402.8" class="wh"/>
<path d="M461.87 295.7h3.6l-1.8 1.8z" class="cap"/>
<path d="M461.87 403.4h3.6l-1.8 -1.8z" class="cap"/>
<rect x="461.27" y="352.5" width="4.8" height="46.8" fill="#4f2969" stroke="#341847" class="bx"/>
<line x1="461.27" y1="370.8" x2="466.07" y2="370.8" class="md"/>
<text x="463.67" y="411.8" class="n">395</text>
<line x1="474.03" y1="351.5" x2="474.03" y2="382.4" class="wh"/>
<line x1="474.03" y1="403.4" x2="474.03" y2="406" class="wh"/>
<path d="M472.23 350.9h3.6l-1.8 1.8z" class="cap"/>
<path d="M472.23 406.6h3.6l-1.8 -1.8z" class="cap"/>
<rect x="471.63" y="382.4" width="4.8" height="21" fill="#aa0229" stroke="#740a20" class="bx"/>
<line x1="471.63" y1="395.3" x2="476.43" y2="395.3" class="md"/>
<circle cx="474.03" cy="330.6" r="1.25"/>
<circle cx="474.03" cy="348.4" r="1.25"/>
<text x="474.03" y="411.8" class="n">109</text>
<line x1="484.39" y1="380.4" x2="484.39" y2="384.1" class="wh"/>
<line x1="484.39" y1="403" x2="484.39" y2="405.5" class="wh"/>
<path d="M482.59 379.8h3.6l-1.8 1.8z" class="cap"/>
<path d="M482.59 406.1h3.6l-1.8 -1.8z" class="cap"/>
<rect x="481.99" y="384.1" width="4.8" height="18.9" fill="#2d4980" stroke="#1b2b50" class="bx"/>
<line x1="481.99" y1="394.9" x2="486.79" y2="394.9" class="md"/>
<circle cx="484.39" cy="307.1" r="1.25"/>
<text x="484.39" y="411.8" class="n">114</text>
<line x1="494.74" y1="252.1" x2="494.74" y2="311.8" class="wh"/>
<line x1="494.74" y1="370.2" x2="494.74" y2="401.4" class="wh"/>
<path d="M492.94 251.5h3.6l-1.8 1.8z" class="cap"/>
<path d="M492.94 402h3.6l-1.8 -1.8z" class="cap"/>
<rect x="492.34" y="311.8" width="4.8" height="58.4" fill="#69a93d" stroke="#4a7a2c" class="bx"/>
<line x1="492.34" y1="348" x2="497.14" y2="348" class="md"/>
<text x="494.74" y="411.8" class="n">590</text>
<line x1="505.1" y1="286.8" x2="505.1" y2="309.8" class="wh"/>
<line x1="505.1" y1="374.9" x2="505.1" y2="402.8" class="wh"/>
<path d="M503.3 286.2h3.6l-1.8 1.8z" class="cap"/>
<path d="M503.3 403.4h3.6l-1.8 -1.8z" class="cap"/>
<rect x="502.7" y="309.8" width="4.8" height="65.1" fill="#4f2969" stroke="#341847" class="bx"/>
<line x1="502.7" y1="337.8" x2="507.5" y2="337.8" class="md"/>
<text x="505.1" y="411.8" class="n">700</text>
<path d="M295 245V414.5H512" class="ax"/>
<line x1="291.8" y1="259.4" x2="295" y2="259.4" class="tk"/>
<text x="288.6" y="261.3" class="tl">1500</text>
<line x1="291.8" y1="308.2" x2="295" y2="308.2" class="tk"/>
<text x="288.6" y="310.1" class="tl">1000</text>
<line x1="291.8" y1="357" x2="295" y2="357" class="tk"/>
<text x="288.6" y="358.9" class="tl">500</text>
<line x1="291.8" y1="405.8" x2="295" y2="405.8" class="tk"/>
<text x="288.6" y="407.7" class="tl">0</text>
<text x="323.84" y="261.4" class="pv">p <0.01</text>
<text x="323.84" y="422.1" class="day">Day 28</text>
<text x="365.27" y="261.4" class="pv">p = 0.17</text>
<text x="365.27" y="422.1" class="day">Day 60</text>
<text x="406.7" y="261.4" class="pv">p = 0.04</text>
<text x="406.7" y="422.1" class="day">Day 100</text>
<text x="448.13" y="261.4" class="pv">p <0.01</text>
<text x="448.13" y="422.1" class="day">Day 180</text>
<text x="489.57" y="261.4" class="pv">p <0.01</text>
<text x="489.57" y="422.1" class="day">Day 365</text>
<text class="time" transform="translate(406.7 432.5) scale(0.665 1)">Time</text>
<text class="yt" style="font-size:7px" transform="translate(272 329.7) rotate(-90)" textLength="15.8" lengthAdjust="spacingAndGlyphs">B cells</text>
<rect x="0" y="0" width="520" height="1.4" fill="#000"/>
<rect x="0" y="440.6" width="520" height="1.4" fill="#000"/>
<rect x="0" y="0" width="1.3" height="226" fill="#000"/>
<rect x="0" y="226" width="2" height="44" fill="#000"/>
<rect x="0" y="270" width="2" height="172" fill="#404040"/>
<rect x="517.8" y="0" width="2.2" height="167" fill="#383838"/>
<rect x="518" y="167" width="2" height="38" fill="#000"/>
<rect x="518.4" y="205" width="1.6" height="237" fill="#000"/>
</g>
</svg>
</body></html>
